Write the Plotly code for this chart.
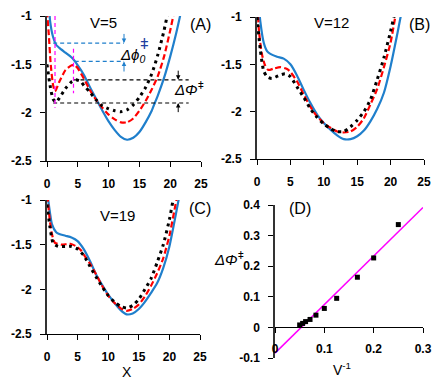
import plotly.graph_objects as go

# ---- panel A (V=5) ----
xa_blue = [0.3, 0.5, 1, 1.5, 2, 3, 4, 5, 6, 7, 8, 9, 10, 11, 12, 13, 14, 15, 16, 17, 17.5, 18, 19, 20, 21, 21.6, 22]
ya_blue = [-0.85, -1.05, -1.22, -1.30, -1.33, -1.38, -1.43, -1.51, -1.61, -1.74, -1.86, -1.98, -2.09, -2.18, -2.25, -2.28,
           -2.26, -2.20, -2.10, -1.98, -1.90, -1.82, -1.64, -1.42, -1.17, -1.0, -0.88]
xa_red = [0, 0.3, 0.6, 1, 1.3, 2, 3, 4, 4.5, 5, 6, 7, 8, 9, 10, 11, 12, 13, 14, 15, 16, 17, 18, 19, 20, 20.5, 21]
ya_red = [-0.95, -1.2, -1.5, -1.72, -1.78, -1.68, -1.56, -1.51, -1.51, -1.54, -1.65, -1.77, -1.87, -1.95, -2.02, -2.07,
          -2.10, -2.10, -2.06, -1.98, -1.88, -1.76, -1.62, -1.42, -1.15, -1.0, -0.85]
xa_blk = [0, 0.5, 1, 1.5, 2, 3, 4, 4.7, 5.5, 6, 7, 8, 9, 10, 11, 12, 13, 14, 15, 16, 17, 18, 19, 19.5, 20]
ya_blk = [-1.5, -1.72, -1.86, -1.89, -1.85, -1.75, -1.68, -1.66, -1.68, -1.72, -1.79, -1.87, -1.93, -1.96, -1.98, -1.99,
          -1.97, -1.92, -1.84, -1.74, -1.60, -1.40, -1.15, -1.0, -0.85]

# ---- panel B (V=12) ----
xb_blue = [0.3, 0.5, 1, 1.5, 2, 3, 4, 5, 6, 7, 8, 9, 10, 11, 12, 13, 14, 15, 16, 17, 18, 19, 20, 21, 21.5, 22]
yb_blue = [-0.9, -1.05, -1.27, -1.36, -1.39, -1.42, -1.44, -1.50, -1.62, -1.77, -1.91, -2.03, -2.12, -2.19, -2.25, -2.29,
           -2.29, -2.26, -2.20, -2.10, -1.97, -1.80, -1.52, -1.18, -1.0, -0.85]
xb_red = [0, 0.3, 0.7, 1.2, 1.7, 2.5, 3.5, 4.5, 5, 6, 7, 8, 9, 10, 11, 12, 13, 14, 15, 16, 17, 18, 19, 20, 20.7, 21]
yb_red = [-0.8, -1.15, -1.38, -1.51, -1.56, -1.545, -1.53, -1.55, -1.58, -1.68, -1.82, -1.95, -2.05, -2.12, -2.17, -2.21,
          -2.22, -2.21, -2.16, -2.07, -1.92, -1.76, -1.53, -1.27, -1.0, -0.9]
xb_blk = [0, 0.5, 1, 1.5, 2.2, 3.2, 4.2, 5, 6, 7, 8, 9, 10, 11, 12, 13, 14, 15, 16, 17, 18, 19, 20, 20.5, 21]
yb_blk = [-1.0, -1.35, -1.57, -1.63, -1.65, -1.62, -1.60, -1.63, -1.74, -1.85, -1.97, -2.06, -2.13, -2.18, -2.21, -2.21,
          -2.16, -2.09, -2.00, -1.87, -1.66, -1.43, -1.15, -1.0, -0.88]

# ---- panel C (V=19) ----
xc_blue = [0.2, 0.5, 0.8, 1.5, 2, 3, 4, 5, 6, 7, 8, 9, 10, 11, 12, 13, 14, 15, 16, 17, 18, 19, 20, 21, 21.5, 22]
yc_blue = [-1.0, -1.15, -1.27, -1.36, -1.38, -1.40, -1.42, -1.46, -1.55, -1.68, -1.83, -1.95, -2.06, -2.15, -2.23, -2.28,
           -2.27, -2.22, -2.14, -2.04, -1.93, -1.76, -1.52, -1.18, -1.0, -0.85]
xc_red = [0, 0.2, 0.5, 0.8, 1.3, 2.4, 3.8, 4.8, 5.5, 6.2, 7, 8, 9, 10, 11, 12, 13, 14, 15, 16, 17, 18, 19, 20, 21, 21.3]
yc_red = [-0.85, -1.05, -1.25, -1.38, -1.48, -1.50, -1.49, -1.52, -1.56, -1.63, -1.71, -1.83, -1.96, -2.07, -2.15, -2.21,
          -2.24, -2.22, -2.17, -2.08, -1.96, -1.82, -1.65, -1.40, -1.05, -0.95]
xc_blk = [0, 0.5, 1, 1.8, 3, 4, 5, 6, 7, 8, 9, 10, 11, 12, 13, 14, 15, 16, 17, 18, 19, 20, 20.6, 21]
yc_blk = [-1.05, -1.31, -1.48, -1.52, -1.52, -1.52, -1.55, -1.62, -1.74, -1.86, -1.97, -2.07, -2.14, -2.19, -2.21, -2.18,
          -2.11, -2.00, -1.88, -1.70, -1.50, -1.22, -1.0, -0.85]

# ---- panel D ----
inv_v = [0.050, 0.056, 0.062, 0.071, 0.083, 0.100, 0.125, 0.167, 0.200, 0.250]
dphi = [0.008, 0.013, 0.019, 0.026, 0.040, 0.062, 0.095, 0.164, 0.227, 0.336]
fit_x = [0.0, 0.3]
fit_y = [-0.084, 0.392]

BLUE = '#1f7fcc'
RED = '#ff0000'
BLACK = '#000000'
MAGENTA = '#ff00ff'
FONT = 'Liberation Sans, Arial, sans-serif'

W, H = 448, 380


def px(x):
    return x / W


def py(y):
    return 1 - y / H


fig = go.Figure()

panels = [
    (xa_blue, ya_blue, xa_red, ya_red, xa_blk, ya_blk, 'x', 'y'),
    (xb_blue, yb_blue, xb_red, yb_red, xb_blk, yb_blk, 'x2', 'y2'),
    (xc_blue, yc_blue, xc_red, yc_red, xc_blk, yc_blk, 'x3', 'y3'),
]
for xb, yb, xr, yr, xk, yk, xa, ya in panels:
    fig.add_trace(go.Scatter(x=xb, y=yb, mode='lines', line=dict(color=BLUE, width=2.2, shape='spline', smoothing=0.6),
                             xaxis=xa, yaxis=ya, showlegend=False))
    fig.add_trace(go.Scatter(x=xr, y=yr, mode='lines',
                             line=dict(color=RED, width=2.2, dash='6px,3px', shape='spline', smoothing=0.6),
                             xaxis=xa, yaxis=ya, showlegend=False))
    fig.add_trace(go.Scatter(x=xk, y=yk, mode='lines',
                             line=dict(color=BLACK, width=3, dash='3px,4px', shape='spline', smoothing=0.6),
                             xaxis=xa, yaxis=ya, showlegend=False))

fig.add_trace(go.Scatter(x=fit_x, y=fit_y, mode='lines', line=dict(color=MAGENTA, width=1.5),
                         xaxis='x4', yaxis='y4', showlegend=False))
fig.add_trace(go.Scatter(x=inv_v, y=dphi, mode='markers', marker=dict(symbol='square', size=5, color=BLACK),
                         xaxis='x4', yaxis='y4', showlegend=False))

tickfont = dict(family=FONT, size=12, color='black', weight='bold')
xcommon = dict(range=[0, 25], tickvals=[0, 5, 10, 15, 20, 25], showgrid=False, zeroline=False, showline=True,
               linecolor='black', linewidth=1, ticks='outside', ticklen=5, tickcolor='black', tickfont=tickfont,
               ticklabelstandoff=7, automargin=False)
ycommon = dict(range=[-2.5, -1], tickvals=[-1, -1.5, -2, -2.5], ticktext=['-1', '-1.5', '-2', '-2.5'], showgrid=False,
               zeroline=False, showline=True, linecolor='#333333', linewidth=2, ticks='outside', ticklen=5,
               tickcolor='black', tickfont=tickfont, ticklabelstandoff=6, automargin=False)

dom_a = ([px(47), px(201)], [py(161), py(16)])
dom_b = ([px(257), px(424)], [py(159), py(17)])
dom_c = ([px(47), px(200)], [py(334), py(200)])
dom_d = ([px(275), px(423)], [py(358), py(205)])
y0_d = dom_d[1][0] + (0 - (-0.1)) / 0.5 * (dom_d[1][1] - dom_d[1][0])

fig.update_layout(
    template='none',
    width=W, height=H, margin=dict(l=0, r=0, t=0, b=0, pad=0),
    plot_bgcolor='white', paper_bgcolor='white',
    font=dict(family=FONT, color='black'),
    xaxis=dict(domain=dom_a[0], anchor='y', **xcommon),
    yaxis=dict(domain=dom_a[1], anchor='x', **ycommon),
    xaxis2=dict(domain=dom_b[0], anchor='y2', **xcommon),
    yaxis2=dict(domain=dom_b[1], anchor='x2', **ycommon),
    xaxis3=dict(domain=dom_c[0], anchor='y3', **xcommon),
    yaxis3=dict(domain=dom_c[1], anchor='x3', **ycommon),
    xaxis4=dict(domain=dom_d[0], anchor='free', position=y0_d, range=[0, 0.3], tickvals=[0, 0.1, 0.2, 0.3],
                ticktext=['0', '0.1', '0.2', '0.3'], showgrid=False, zeroline=False, showline=True, linecolor='black',
                linewidth=1, ticks='outside', ticklen=5, tickcolor='black', tickfont=tickfont, ticklabelstandoff=5,
                automargin=False),
    yaxis4=dict(domain=dom_d[1], anchor='x4', range=[-0.1, 0.4], tickvals=[0.4, 0.3, 0.2, 0.1, 0, -0.1],
                ticktext=['0.4', '0.3', '0.2', '0.1', '0', '-0.1'], showgrid=False, zeroline=False, showline=True,
                linecolor='#333333', linewidth=1.5, ticks='outside', ticklen=5, tickcolor='black', tickfont=tickfont,
                ticklabelstandoff=6, automargin=False),
)

# guide lines in panel A
guides = [
    (1.0, -1.28, 12.5, -1.28, BLUE),
    (4.5, -1.47, 12.5, -1.47, BLUE),
    (4.3, -1.66, 23.0, -1.66, BLACK),
    (1.0, -1.90, 23.0, -1.90, BLACK),
    (1.3, -1.0, 1.3, -1.95, MAGENTA),
    (4.3, -1.34, 4.3, -1.80, MAGENTA),
]
for x0, y0, x1, y1, c in guides:
    fig.add_shape(type='line', xref='x', yref='y', x0=x0, y0=y0, x1=x1, y1=y1,
                  line=dict(color=c, width=1.2, dash='4px,3px'))

arrows = [
    (12.5, -1.28, 12.5, -1.17, BLUE),
    (12.5, -1.47, 12.5, -1.59, BLUE),
    (21.3, -1.66, 21.3, -1.55, BLACK),
    (21.3, -1.90, 21.3, -2.01, BLACK),
]
for x, y, ax, ay, c in arrows:
    fig.add_annotation(x=x, y=y, ax=ax, ay=ay, xref='x', yref='y', axref='x', ayref='y', text='', showarrow=True,
                       arrowhead=2, arrowsize=0.9, arrowwidth=1, arrowcolor=c)

labels = [
    ('V=5', 103, 23, 15), ('(A)', 200, 25, 16),
    ('V=12', 331, 23, 15), ('(B)', 419, 25, 16),
    ('V=19', 117, 215, 15), ('(C)', 200, 208, 16),
    ('(D)', 300, 208, 16),
    ('X', 127, 372, 14),
    ('V<sup>-1</sup>', 342, 369, 14),
]
for t, x, y, s in labels:
    fig.add_annotation(x=px(x), y=py(y), xref='paper', yref='paper', text=t, showarrow=False,
                       xanchor='center', yanchor='middle', font=dict(family=FONT, size=s, color='black'))

extra = [
    ('<i>Δϕ</i><sub><i>0</i></sub>', 132, 55, 'black'),
    ('ǂ', 144, 43, '#1f3fa0'),
    ('<i>ΔΦ</i><sup>ǂ</sup>', 189, 88, 'black'),
    ('<i>ΔΦ</i><sup>ǂ</sup>', 229, 258, 'black'),
]
for t, x, y, c in extra:
    fig.add_annotation(x=px(x), y=py(y), xref='paper', yref='paper', text=t, showarrow=False,
                       xanchor='center', yanchor='middle', font=dict(family=FONT, size=15, color=c))

fig.write_html('out.html', config={'displayModeBar': False}, post_script="document.body.style.margin='0';")
